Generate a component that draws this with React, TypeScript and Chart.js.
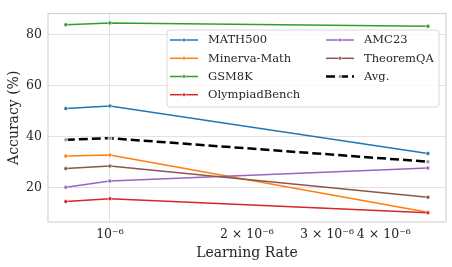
import React, { useEffect, useRef } from "react";
import { Chart, registerables } from "chart.js";

Chart.register(...registerables);

const learningRates = [8e-7, 1e-6, 5e-6];
const seriesNames = ["MATH500", "Minerva-Math", "GSM8K", "OlympiadBench", "AMC23", "TheoremQA", "Avg."];
const math500 = [51.0, 52.0, 33.4];
const minervaMath = [32.4, 32.8, 10.4];
const gsm8k = [83.8, 84.5, 83.2];
const olympiadBench = [14.6, 15.7, 10.2];
const amc23 = [20.2, 22.6, 27.7];
const theoremQA = [27.5, 28.5, 16.3];
const avgValues = [38.8, 39.4, 30.2];
const xTickValues = [1e-6, 2e-6, 3e-6, 4e-6];
const xTickLabels = ["10⁻⁶", "2 × 10⁻⁶", "3 × 10⁻⁶", "4 × 10⁻⁶"];
const yTickValues = [20, 40, 60, 80];
const seriesColors = ["#1f77b4", "#ff7f0e", "#2ca02c", "#d62728", "#9467bd", "#8c564b", "#000000"];

const FONT = "'DejaVu Serif', serif";
const TEXT = "#262626";
const GRID = "#e2e2e2";

const allSeries = [math500, minervaMath, gsm8k, olympiadBench, amc23, theoremQA, avgValues];

const framePlugin = {
  id: "frame",
  beforeDatasetsDraw(chart: any) {
    const { ctx, chartArea } = chart;
    ctx.save();
    ctx.strokeStyle = "#d4d4d4";
    ctx.lineWidth = 1.2;
    ctx.strokeRect(chartArea.left, chartArea.top, chartArea.right - chartArea.left, chartArea.bottom - chartArea.top);
    ctx.restore();
  },
};

const legendPlugin = {
  id: "customLegend",
  afterDatasetsDraw(chart: any) {
    const { ctx } = chart;
    ctx.save();
    const bx = 167, by = 30, bw = 272, bh = 77;
    ctx.beginPath();
    ctx.roundRect(bx, by, bw, bh, 3);
    ctx.fillStyle = "rgba(255,255,255,0.8)";
    ctx.fill();
    ctx.strokeStyle = "#d9d9d9";
    ctx.lineWidth = 1;
    ctx.stroke();
    const rows = [40, 58.3, 76.5, 94.7];
    const handleX = [170, 326];
    const textX = [208, 364];
    chart.data.datasets.forEach((ds: any, i: number) => {
      const col = Math.floor(i / 4);
      const row = i % 4;
      const y = rows[row];
      const x0 = handleX[col];
      ctx.beginPath();
      ctx.strokeStyle = ds.borderColor;
      ctx.lineWidth = ds.borderWidth;
      ctx.setLineDash(ds.borderDash || []);
      ctx.moveTo(x0, y);
      ctx.lineTo(x0 + 28, y);
      ctx.stroke();
      ctx.setLineDash([]);
      ctx.beginPath();
      ctx.arc(x0 + 14, y, 1.8, 0, Math.PI * 2);
      ctx.fillStyle = ds.pointBackgroundColor;
      ctx.fill();
      ctx.strokeStyle = "#ffffff";
      ctx.lineWidth = 0.6;
      ctx.stroke();
      ctx.fillStyle = TEXT;
      ctx.font = `11.5px ${FONT}`;
      ctx.textBaseline = "middle";
      ctx.textAlign = "left";
      ctx.fillText(ds.label, textX[col], y + 0.5);
    });
    ctx.restore();
  },
};

export default function App() {
  const canvasRef = useRef<HTMLCanvasElement | null>(null);

  useEffect(() => {
    document.body.style.margin = "0";
    const canvas = canvasRef.current;
    if (!canvas) return;
    const datasets = allSeries.map((vals, i) => {
      const isAvg = i === 6;
      return {
        label: seriesNames[i],
        data: vals.map((v, j) => ({ x: learningRates[j], y: v })),
        borderColor: seriesColors[i],
        backgroundColor: seriesColors[i],
        pointBackgroundColor: isAvg ? "#9a9a9a" : seriesColors[i],
        pointBorderColor: "#ffffff",
        pointBorderWidth: 0.6,
        pointRadius: 2,
        borderWidth: isAvg ? 2.5 : 1.5,
        borderDash: isAvg ? [9, 4] : undefined,
        tension: 0,
        fill: false,
        order: 6 - i,
      };
    });
    const chart = new Chart(canvas, {
      type: "line",
      data: { datasets },
      options: {
        animation: false,
        responsive: false,
        maintainAspectRatio: false,
        layout: { padding: { top: 5, right: 6, left: 0, bottom: 0 } },
        plugins: {
          legend: { display: false },
          tooltip: { enabled: false },
        },
        scales: {
          x: {
            type: "logarithmic",
            min: 7.31e-7,
            max: 5.48e-6,
            afterBuildTicks(scale: any) {
              scale.ticks = xTickValues.map((v) => ({ value: v }));
            },
            afterFit(scale: any) {
              scale.height = 45;
            },
            border: { display: false },
            grid: {
              drawTicks: false,
              color: (ctx: any) => (ctx.tick && ctx.tick.value === 1e-6 ? GRID : "rgba(0,0,0,0)"),
              lineWidth: 1,
            },
            ticks: {
              autoSkip: false,
              maxRotation: 0,
              padding: 5,
              color: TEXT,
              font: { family: FONT, size: 12.5 },
              callback: (value: any) => {
                const idx = xTickValues.findIndex((v) => Math.abs(v - Number(value)) < 1e-12);
                return idx >= 0 ? xTickLabels[idx] : "";
              },
            },
            title: {
              display: true,
              text: "Learning Rate",
              color: TEXT,
              font: { family: FONT, size: 14 },
              padding: { top: 0, bottom: 5 },
            },
          },
          y: {
            type: "linear",
            min: 6.6,
            max: 88.2,
            afterBuildTicks(scale: any) {
              scale.ticks = yTickValues.map((v) => ({ value: v }));
            },
            afterFit(scale: any) {
              scale.width = 48;
            },
            border: { display: false },
            grid: { drawTicks: false, color: GRID, lineWidth: 1 },
            ticks: {
              padding: 6,
              color: TEXT,
              font: { family: FONT, size: 12.5 },
              callback: (value: any) => String(value),
            },
            title: {
              display: true,
              text: "Accuracy (%)",
              color: TEXT,
              font: { family: FONT, size: 14 },
              padding: { top: 6, bottom: 0 },
            },
          },
        },
      },
      plugins: [framePlugin, legendPlugin],
    });
    return () => chart.destroy();
  }, []);

  return (
    <div style={{ position: "absolute", left: 0, top: 0, width: 452, height: 267, background: "#ffffff" }}>
      <canvas ref={canvasRef} width={452} height={267} style={{ width: 452, height: 267 }} />
    </div>
  );
}
